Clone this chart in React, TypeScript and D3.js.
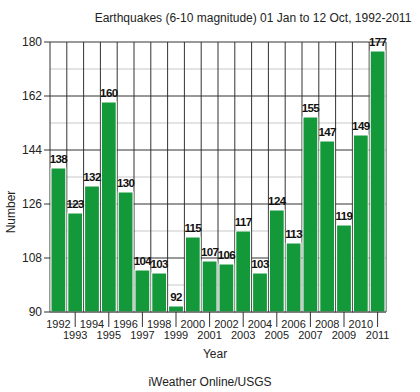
import React from 'react';
import * as d3 from 'd3';

const years = ['1992','1993','1994','1995','1996','1997','1998','1999','2000','2001','2002','2003','2004','2005','2006','2007','2008','2009','2010','2011'];
const counts = [138,123,132,160,130,104,103,92,115,107,106,117,103,124,113,155,147,119,149,177];
const yTicks = [90,108,126,144,162,180];
const yMinor = [99,117,135,153,171];

const W = 420, H = 392;
const margin = { top: 42, right: 34, bottom: 80, left: 50 };
const font = 'Liberation Sans, Arial, sans-serif';

const App: React.FC = () => {
  const innerW = W - margin.left - margin.right;
  const innerH = H - margin.top - margin.bottom;
  const x = d3.scaleBand<string>().domain(years).range([0, innerW]).paddingInner(0.12).paddingOuter(0.06);
  const step = x.step();
  const y = d3.scaleLinear().domain([90, 180]).range([innerH, 0]);
  const green = '#14993a';

  return (
    <div style={{ position: 'absolute', left: 0, top: 0 }}>
      <svg width={W} height={H} style={{ display: 'block', background: '#fff' }} fontFamily={font}>
        <text x={253} y={22} textAnchor="middle" fontSize={12} fill="#222">
          Earthquakes (6-10 magnitude) 01 Jan to 12 Oct, 1992-2011
        </text>
        <g transform={`translate(${margin.left},${margin.top})`}>
          {yMinor.map(v => (
            <line key={'m' + v} x1={0} x2={innerW} y1={y(v)} y2={y(v)} stroke="#c8c8c8" strokeWidth={1} />
          ))}
          {yTicks.map(v => (
            <line key={'g' + v} x1={0} x2={innerW} y1={y(v)} y2={y(v)} stroke="#333" strokeWidth={1} />
          ))}
          {years.map((yr, i) => (
            <line key={'v' + yr} x1={i * step} x2={i * step} y1={0} y2={innerH} stroke="#333" strokeWidth={1} />
          ))}
          <line x1={innerW} x2={innerW} y1={0} y2={innerH} stroke="#333" />
          {years.map((yr, i) => (
            <rect key={'b' + yr} x={x(yr)} y={y(counts[i])} width={x.bandwidth()} height={innerH - y(counts[i])}
              fill={green} stroke="#fff" strokeWidth={1} />
          ))}
          {years.map((yr, i) => (
            <text key={'l' + yr} x={(x(yr) ?? 0) + x.bandwidth() / 2} y={y(counts[i]) - 5} textAnchor="middle"
              fontSize={11.5} fontWeight="bold" letterSpacing={-0.6} fill="#111">{counts[i]}</text>
          ))}
          {yTicks.map(v => (
            <g key={'t' + v} transform={`translate(0,${y(v)})`}>
              <line x1={-6} x2={0} stroke="#333" />
              <text x={-8} dy="0.35em" textAnchor="end" fontSize={12} fill="#222">{v}</text>
            </g>
          ))}
          <line x1={0} x2={innerW} y1={innerH} y2={innerH} stroke="#333" />
          {years.map((yr, i) => {
            const cx = (x(yr) ?? 0) + x.bandwidth() / 2;
            const odd = i % 2 === 1;
            return (
              <g key={'x' + yr}>
                {odd && <line x1={cx} x2={cx} y1={innerH} y2={innerH + 15} stroke="#333" />}
                <text x={cx} y={innerH + (odd ? 27 : 16)} textAnchor="middle" fontSize={11} fill="#222">{yr}</text>
              </g>
            );
          })}
        </g>
        <text x={215} y={358} textAnchor="middle" fontSize={12} fill="#222">Year</text>
        <text transform="translate(15,212) rotate(-90)" textAnchor="middle" fontSize={12} fill="#222">Number</text>
        <text x={210} y={386} textAnchor="middle" fontSize={12} fill="#222">iWeather Online/USGS</text>
      </svg>
    </div>
  );
};

export default App;
